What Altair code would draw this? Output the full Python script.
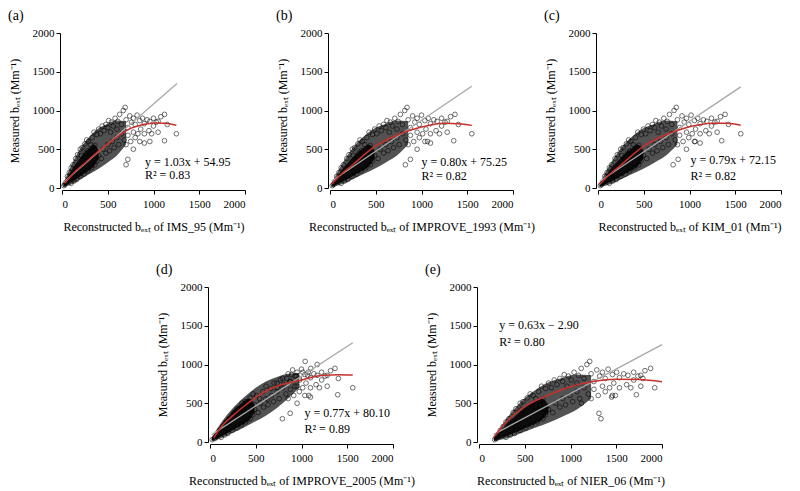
import altair as alt
import pandas as pd

# Measured b_ext (shared across panels)
measured = [30, 45, 70, 150, 200, 260, 60, 300, 90, 180,
            380, 110, 430, 260, 500, 150, 420, 520, 180, 350,
            570, 450, 620, 220, 480, 600, 400, 560, 260, 650,
            420, 480, 720, 300, 550, 420, 690, 350, 760, 420,
            700, 380, 800, 500, 740, 820, 450, 780, 560, 870,
            480, 720, 850, 600, 800, 520, 900, 760, 650, 860,
            560, 950, 820, 700, 1000, 620, 1040, 880, 560, 300,
            780, 370, 680, 930, 600, 850, 900, 720, 500, 820,
            650, 940, 700, 870, 600, 760, 900, 830, 700, 580,
            880, 740, 860, 600, 700, 900, 800, 850, 860, 720,
            920, 610, 950, 820, 700]

recon_ims95 = [20, 30, 40, 60, 80, 100, 100, 120, 130, 140,
               150, 160, 170, 180, 200, 200, 210, 220, 240, 240,
               250, 260, 270, 280, 280, 290, 300, 310, 320, 330,
               330, 340, 350, 360, 360, 370, 380, 380, 400, 400,
               420, 430, 440, 450, 460, 480, 480, 500, 500, 510,
               520, 530, 540, 550, 560, 570, 580, 600, 600, 610,
               620, 630, 650, 650, 670, 680, 690, 700, 700, 700,
               720, 720, 720, 740, 750, 760, 780, 780, 780, 800,
               800, 820, 830, 850, 850, 860, 880, 900, 900, 900,
               930, 950, 960, 960, 980, 1000, 1000, 1030, 1050, 1050,
               1080, 1120, 1120, 1150, 1250]

recon_improve1993 = [24, 37, 49, 73, 98, 122, 122, 146, 159, 171,
                     183, 195, 207, 220, 244, 244, 256, 268, 293, 293,
                     305, 317, 329, 342, 342, 354, 366, 378, 390, 403,
                     403, 415, 427, 439, 439, 451, 464, 464, 488, 488,
                     512, 525, 537, 549, 561, 586, 586, 610, 610, 622,
                     634, 647, 659, 671, 683, 695, 708, 732, 732, 744,
                     756, 769, 793, 793, 817, 830, 842, 854, 854, 824,
                     878, 879, 878, 903, 915, 927, 952, 952, 952, 976,
                     976, 1000, 1013, 1037, 1037, 1049, 1074, 1098, 1098, 1098,
                     1135, 1159, 1171, 1066, 1196, 1220, 1220, 1257, 1281, 1281,
                     1318, 1352, 1366, 1403, 1550]

recon_kim01 = [25, 37, 50, 74, 99, 124, 124, 149, 161, 174,
               186, 198, 211, 223, 248, 248, 260, 273, 298, 298,
               310, 322, 335, 347, 347, 360, 372, 384, 397, 409,
               409, 422, 434, 446, 446, 459, 471, 471, 496, 496,
               521, 533, 546, 558, 570, 595, 595, 620, 620, 632,
               645, 657, 670, 682, 694, 707, 719, 744, 744, 756,
               769, 781, 806, 806, 831, 843, 856, 868, 868, 821,
               893, 876, 893, 918, 930, 942, 967, 967, 967, 992,
               992, 1017, 1029, 1054, 1054, 1066, 1091, 1116, 1116, 1116,
               1153, 1178, 1190, 1062, 1215, 1240, 1240, 1277, 1302, 1302,
               1339, 1352, 1389, 1426, 1560]

recon_improve2005 = [24, 52, 70, 105, 140, 175, 122, 210, 159, 171,
                     262, 195, 298, 220, 350, 244, 368, 385, 293, 293,
                     438, 455, 472, 342, 490, 508, 366, 542, 390, 578,
                     403, 415, 612, 439, 630, 451, 665, 464, 700, 488,
                     735, 525, 770, 549, 805, 840, 586, 875, 610, 892,
                     634, 928, 945, 671, 980, 695, 1015, 732, 732, 1068,
                     756, 1102, 793, 793, 1172, 830, 1040, 854, 854, 791,
                     878, 876, 878, 903, 915, 927, 952, 952, 952, 976,
                     976, 1000, 1013, 1037, 1037, 1049, 1074, 1098, 1098, 1098,
                     1135, 1159, 1171, 1080, 1196, 1220, 1220, 1257, 1281, 1281,
                     1318, 1396, 1366, 1403, 1560]

recon_nier06 = [171, 187, 202, 233, 264, 295, 295, 326, 342, 357,
                373, 388, 404, 419, 450, 450, 466, 481, 512, 512,
                528, 543, 559, 574, 574, 590, 605, 621, 636, 652,
                652, 667, 683, 698, 698, 714, 729, 729, 760, 760,
                791, 807, 822, 838, 853, 884, 884, 915, 915, 931,
                946, 962, 977, 993, 1008, 1024, 1039, 1070, 1070, 1086,
                1101, 1117, 1148, 1148, 1179, 1194, 1210, 1225, 1225, 1333,
                1256, 1311, 1256, 1287, 1303, 1318, 1349, 1349, 1120, 1380,
                1380, 1411, 1427, 1458, 1458, 1473, 1504, 1535, 1535, 1450,
                1582, 1613, 1628, 1490, 1659, 1690, 1690, 1737, 1768, 1768,
                1814, 1720, 1876, 1790, 1920]

# Dense core of the point cloud (lower / upper envelope)
core_lo = [20, 40, 75, 110, 150, 190, 230, 280, 380]
core_hi = [45, 120, 220, 310, 390, 460, 520, 560, 480]
core_x_a = [15, 50, 100, 150, 200, 250, 300, 350, 400]
core_x_b = [18, 61, 122, 183, 244, 305, 366, 427, 488]
core_x_c = [19, 62, 124, 186, 248, 310, 372, 434, 496]
core_x_d = [18, 61, 122, 183, 244, 305, 366, 427, 488]
core_x_e = [163, 218, 295, 373, 450, 528, 605, 683, 760]

# Less dense halo around the core
halo_lo = [10, 45, 110, 180, 250, 330, 420, 560]
halo_hi = [60, 290, 510, 660, 770, 830, 870, 860]
halo_x_a = [15, 100, 200, 300, 400, 500, 600, 700]
halo_x_b = [18, 122, 244, 366, 488, 610, 732, 854]
halo_x_c = [19, 124, 248, 372, 496, 620, 744, 868]
halo_x_e = [163, 295, 450, 605, 760, 915, 1070, 1225]
halo_x_d = [18, 122, 244, 366, 488, 610, 732, 854, 976]
halo_lo_d = [10, 50, 115, 185, 260, 340, 440, 560, 700]
halo_hi_d = [60, 250, 430, 570, 690, 780, 840, 880, 890]

# Linear regression lines (end points)
lin_a = ([15, 1257], [70, 1349])
lin_b = ([20, 1549], [91, 1314])
lin_c = ([20, 1560], [88, 1305])
lin_d = ([20, 1560], [95, 1281])
lin_e = ([160, 2000], [98, 1257])

# Red fitted curves
fit_a = ([30, 125, 250, 375, 500, 625, 750, 875, 1000, 1125, 1250],
         [60, 190, 320, 450, 570, 680, 770, 815, 840, 835, 810])
fit_b = ([22, 125, 250, 375, 500, 750, 875, 1000, 1125, 1250, 1400, 1550],
         [50, 180, 300, 430, 542, 690, 745, 787, 820, 835, 830, 808])
fit_c = ([22, 125, 250, 375, 500, 750, 875, 1000, 1125, 1250, 1400, 1560],
         [50, 175, 295, 425, 540, 690, 745, 790, 820, 835, 835, 810])
fit_d = ([40, 125, 250, 375, 500, 625, 750, 875, 1000, 1125, 1250, 1400, 1560],
         [50, 200, 340, 465, 575, 665, 730, 765, 800, 840, 862, 868, 865])
fit_e = ([160, 300, 500, 750, 1000, 1250, 1500, 1750, 2000],
         [60, 260, 456, 600, 714, 780, 810, 805, 778])

labels = ["(a)", "(b)", "(c)", "(d)", "(e)"]
schemes = ["IMS_95", "IMPROVE_1993", "KIM_01", "IMPROVE_2005", "NIER_06"]
equations = ["y = 1.03x + 54.95", "y = 0.80x + 75.25", "y = 0.79x + 72.15",
             "y = 0.77x + 80.10", "y = 0.63x \u2212 2.90"]
r2s = ["R\u00b2 = 0.83", "R\u00b2 = 0.82", "R\u00b2 = 0.82", "R\u00b2 = 0.89", "R\u00b2 = 0.80"]
eq_x = [907, 1000, 1011, 1033, 222]
eq_y = [340, 340, 360, 378, 1505]
r2_y = [172, 155, 155, 162, 1290]

recons = [recon_ims95, recon_improve1993, recon_kim01, recon_improve2005, recon_nier06]
cores = [core_x_a, core_x_b, core_x_c, core_x_d, core_x_e]
halos = [(halo_x_a, halo_lo, halo_hi), (halo_x_b, halo_lo, halo_hi),
         (halo_x_c, halo_lo, halo_hi), (halo_x_d, halo_lo_d, halo_hi_d),
         (halo_x_e, halo_lo, halo_hi)]
lins = [lin_a, lin_b, lin_c, lin_d, lin_e]
fits = [fit_a, fit_b, fit_c, fit_d, fit_e]

FONT = "Liberation Serif"
TICKS = [0, 500, 1000, 1500, 2000]


def panel(i):
    xs = alt.Scale(domain=[0, 2000], nice=False)
    ys = alt.Scale(domain=[0, 2000], nice=False)
    xax = alt.Axis(values=TICKS, offset=2, format="d", labelPadding=4, titlePadding=12,
                   title="Reconstructed b\u2091\u2093\u209c of " + schemes[i] + " (Mm\u207b\u00b9)")
    yax = alt.Axis(values=TICKS, offset=2, format="d", labelPadding=2, titlePadding=11,
                   title="Measured b\u2091\u2093\u209c (Mm\u207b\u00b9)")

    pts = pd.DataFrame({"x": recons[i], "y": measured})
    core = pd.DataFrame({"x": cores[i], "y": core_lo, "y2": core_hi})
    hx, hlo, hhi = halos[i]
    halo = pd.DataFrame({"x": hx, "y": hlo, "y2": hhi})
    lin = pd.DataFrame({"x": lins[i][0], "y": lins[i][1]})
    fit = pd.DataFrame({"x": fits[i][0], "y": fits[i][1]})
    txt = pd.DataFrame({"x": [eq_x[i], eq_x[i]], "y": [eq_y[i], r2_y[i]],
                        "t": [equations[i], r2s[i]]})

    X = alt.X("x:Q", scale=xs, axis=xax)
    Y = alt.Y("y:Q", scale=ys, axis=yax)

    halo_m = alt.Chart(halo).mark_area(color="black", opacity=0.68,
                                       interpolate="monotone").encode(x=X, y=Y, y2="y2:Q")
    core_m = alt.Chart(core).mark_area(color="black", opacity=0.85,
                                       interpolate="monotone").encode(x=X, y=Y, y2="y2:Q")
    points = alt.Chart(pts).mark_point(shape="circle", filled=False, color="black",
                                       size=22, strokeWidth=0.8).encode(x=X, y=Y)
    gray = alt.Chart(lin).mark_line(color="#a8a8a8", strokeWidth=1.3).encode(x=X, y=Y)
    red = alt.Chart(fit).mark_line(color="#c8302c", strokeWidth=1.5,
                                   interpolate="monotone").encode(x=X, y=Y)
    text = alt.Chart(txt).mark_text(align="left", baseline="middle", font=FONT,
                                    fontSize=12, color="black").encode(x=X, y=Y, text="t:N")
    return alt.layer(halo_m, core_m, points, gray, red, text).properties(
        width=183, height=155,
        title=alt.TitleParams(labels[i], anchor="start", frame="bounds", font=FONT,
                              fontSize=14, fontWeight="normal", offset=4, color="black"))


spacer = alt.Chart(pd.DataFrame({"v": [0]})).mark_point(opacity=0).encode(
    x=alt.X("v:Q", axis=None), y=alt.Y("v:Q", axis=None)).properties(width=62, height=155)

top = alt.hconcat(panel(0), panel(1), panel(2), spacing=85, bounds="flush")
bottom = alt.hconcat(spacer, panel(3), panel(4), spacing=86, bounds="flush")

chart = alt.vconcat(top, bottom, spacing=31).configure_view(
    stroke=None
).configure_axis(
    grid=False, domainColor="black", tickColor="black", tickSize=4,
    labelFont=FONT, labelFontSize=11, labelColor="black",
    titleFont=FONT, titleFontSize=12, titleFontWeight="normal", titleColor="black"
).properties(padding={"left": 0, "top": 1, "right": 5, "bottom": 5})

chart.save("out.html", embed_options={"renderer": "svg", "actions": False})
